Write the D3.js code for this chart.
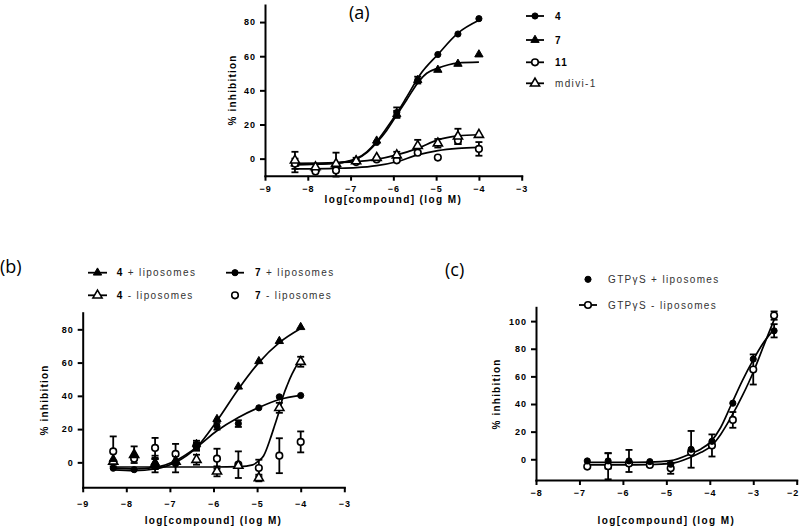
<!DOCTYPE html>
<html><head><meta charset="utf-8">
<script src="https://cdn.jsdelivr.net/npm/d3@7"></script>
<style>
body{margin:0;background:#fff;}
svg{display:block;}
.axis path,.axis line{stroke:#000;stroke-width:2;}
.axis .tick text{font-family:"Liberation Sans",Arial,sans-serif;font-weight:bold;font-size:9px;letter-spacing:1px;fill:#000;}
.atitle{font-family:"Liberation Sans",Arial,sans-serif;font-weight:bold;font-size:10px;fill:#000;}
.leg{font-family:"Liberation Sans",Arial,sans-serif;font-size:10px;letter-spacing:1.35px;fill:#222;}
.ptitle{font-family:"Open Sans","Liberation Sans",sans-serif;font-size:18px;fill:#000;}
</style></head><body>
<svg id="chart" width="800" height="529"></svg>
<script>
// ---------- Panel (a) ----------
const xTicksA=[-9,-8,-7,-6,-5,-4,-3];
const yTicksA=[0,20,40,60,80];
const doseA=[-8.3,-7.82,-7.34,-6.87,-6.39,-5.92,-5.43,-4.96,-4.49,-4.0];
const a4=[-2,-7,-3.5,-1,9.5,27,46,61,73,82];
const a4Err=[6,0,7,0,0,3,0,0,0,0];
const a7=[-3,-6,-4,-1,10.5,26,46,52,55.5,61];
const a7Err=[3,0,0,1.5,0,2,2,0,0,0];
const a11=[-3,-7.5,-7,-2,-0.5,-1,3.5,0.6,10.5,5.7];
const a11Err=[0,0,0,0,0,0,0,0,2,4];
const aMd=[-1,-5,-3,-1.5,0.5,2,7.5,9,13,14];
const aMdErr=[0,0,0,0,0,2,3.5,2.5,4.5,0];
const a4FitX=[-8.3,-7.82,-7.34,-6.87,-6.62,-6.39,-6.16,-5.92,-5.69,-5.38,-4.96,-4.49,-4.0];
const a4FitY=[-3.5,-3.3,-2.7,0,4,10,17.8,26.6,36,49,61,73.5,81];
const a7FitX=[-8.3,-7.82,-7.34,-6.87,-6.62,-6.39,-6.16,-5.92,-5.69,-5.38,-5.22,-4.96,-4.49,-4.0];
const a7FitY=[-3.5,-3.3,-2.7,-0.4,3.5,9.4,16.4,25.6,34.4,46,50,53,56,56.5];
const a11FitX=[-8.3,-7.34,-6.87,-6.39,-5.92,-5.43,-4.96,-4.49,-4.0];
const a11FitY=[-6,-5.7,-5.3,-4.1,-1.8,2.2,4.7,6,6.6];
const aMdFitX=[-8.3,-7.34,-6.87,-6.39,-5.92,-5.43,-4.96,-4.49,-4.0];
const aMdFitY=[-2.7,-2.3,-1.8,-0.4,2.2,6,11,13.3,14];
const legA=["4","7","11","mdivi-1"];

// ---------- Panel (b) ----------
const xTicksB=[-9,-8,-7,-6,-5,-4,-3];
const yTicksB=[0,20,40,60,80];
const doseB=[-8.3,-7.82,-7.34,-6.87,-6.39,-5.92,-5.43,-4.96,-4.49,-4.0];
const b4p=[2,4.6,0,1,11,26,45.5,60.8,72.9,81.3];
const b4pErr=[0,5,4,0,0,0,0,0,0,0];
const b4m=[0.5,4.6,-1,0.5,1.6,-5.4,-2,-9.4,32.8,60.5];
const b4mErr=[0,0,3,0,3,3,0,2,3,3];
const b7p=[-3.5,-4.4,-2,-1,10,21.7,23.3,32.8,39.4,40.2];
const b7pErr=[0,0,4,5,2,2,2,0,0,0];
const b7m=[6.6,2.2,8.7,5.1,10,2.2,-1.4,-3.4,4,12.3];
const b7mErr=[9,0,6,6,3,6,8,5,10.5,6.3];
const b4pFitX=[-8.3,-7.82,-7.34,-6.87,-6.39,-5.92,-5.43,-4.96,-4.49,-4.0];
const b4pFitY=[-4.5,-5,-4,0,9,25,44,60,72,80.5];
const b4mFitX=[-8.3,-7,-6,-5.4,-5.1,-4.96,-4.85,-4.7,-4.6,-4.49,-4.4,-4.3,-4.2,-4.1,-4.0];
const b4mFitY=[-2.8,-2.8,-2.8,-2.6,-1.5,1,4,14,22,31,40,47,53,58,61];
const b7pFitX=[-8.3,-7.82,-7.34,-6.87,-6.39,-5.92,-5.43,-4.96,-4.49,-4.0];
const b7pFitY=[-3.5,-4,-3,1,9,19,27,33,37.8,40.3];
const legB=[["4"," + liposomes"],["4"," - liposomes"],["7"," + liposomes"],["7"," - liposomes"]];

// ---------- Panel (c) ----------
const xTicksC=[-8,-7,-6,-5,-4,-3,-2];
const yTicksC=[0,20,40,60,80,100];
const doseC=[-6.82,-6.34,-5.86,-5.38,-4.9,-4.43,-3.95,-3.47,-3.0,-2.52];
const cP=[-1.2,-1.2,-1.2,-1.7,-3.6,7.2,13,40.6,72.5,93];
const cPErr=[0,5.5,8,0,0,13.3,0,0,0,4.8];
const cM=[-5.3,-5,-3,-4.1,-6.5,5,10,28.5,65,104];
const cMErr=[0,9.5,0,0,4,0,8,5.7,10.9,3];
const cPFitX=[-6.82,-6,-5.4,-4.9,-4.44,-4.2,-3.97,-3.75,-3.5,-3.25,-3.0,-2.75,-2.52];
const cPFitY=[-2.2,-2.2,-2,-1,4,7.5,13,23,40,57,72,85,94];
const cMFitX=[-6.82,-6,-5.4,-4.9,-4.44,-4.2,-3.97,-3.75,-3.5,-3.25,-3.0,-2.75,-2.52];
const cMFitY=[-4,-4,-3.8,-3,1.5,5,9.5,18,31,46,63,83,101];
const legC=["GTP\u03B3S + liposomes","GTP\u03B3S - liposomes"];

const xLabel="log[compound] (log M)";
const yLabel="% inhibition";

const svg=d3.select("#chart");

function marker(g,type,filled,x,y){
  const sym = type==="circle"? d3.symbol().type(d3.symbolCircle).size(filled?30:34)
                             : d3.symbol().type(d3.symbolTriangle).size(filled?30:36);
  g.append("path").attr("d",sym()).attr("transform",`translate(${x},${y})`)
   .attr("fill",filled?"#000":"#fff").attr("stroke","#000").attr("stroke-width",filled?1:1.6);
}

function panel(cfg){
  const x=d3.scaleLinear().domain(cfg.xDom).range(cfg.xRange);
  const y=d3.scaleLinear().domain(cfg.yDom).range(cfg.yRange);
  const g=svg.append("g");
  const xa=g.append("g").attr("class","axis").attr("transform",`translate(0,${cfg.yRange[0]})`)
    .call(d3.axisBottom(x).tickValues(cfg.xTicks).tickFormat(d3.format("d")).tickSize(5).tickSizeOuter(0).tickPadding(cfg.xPad));
  if(cfg.lastDx) xa.selectAll(".tick text").filter((d,i,n)=>i===n.length-1).attr("dx",cfg.lastDx);
  g.append("g").attr("class","axis").attr("transform",`translate(${cfg.xRange[0]},0)`)
    .call(d3.axisLeft(y).tickValues(cfg.yTicks).tickFormat(d3.format("d")).tickSize(5).tickSizeOuter(0).tickPadding(4));
  g.selectAll(".axis .domain").attr("stroke-linecap","square");
  // axis titles
  g.append("text").attr("class","atitle").attr("text-anchor","middle").attr("letter-spacing","1.4px")
    .attr("x",(cfg.xRange[0]+cfg.xRange[1])/2).attr("y",cfg.xTitleY).text(xLabel);
  g.append("text").attr("class","atitle").attr("text-anchor","middle").attr("letter-spacing","1.2px")
    .attr("transform",`translate(${cfg.yTitleX},${cfg.yTitleY}) rotate(-90)`).attr("dy","0.35em").text(yLabel);
  // curves
  const line=d3.line().x(d=>x(d[0])).y(d=>y(d[1])).curve(d3.curveMonotoneX);
  cfg.fits.forEach(f=>{
    g.append("path").attr("d",line(d3.zip(f[0],f[1]))).attr("fill","none").attr("stroke","#000").attr("stroke-width",1.7);
  });
  // error bars + markers
  cfg.series.forEach(s=>{
    s.vals.forEach((v,i)=>{
      const e=s.err[i]; if(e>0){
        const cx=x(cfg.dose[i]), y1=y(v-e), y2=y(v+e);
        g.append("line").attr("x1",cx).attr("x2",cx).attr("y1",y1).attr("y2",y2).attr("stroke","#000").attr("stroke-width",1.8);
        [y1,y2].forEach(yy=>g.append("line").attr("x1",cx-3.5).attr("x2",cx+3.5).attr("y1",yy).attr("y2",yy).attr("stroke","#000").attr("stroke-width",1.8));
      }
    });
  });
  cfg.series.forEach(s=>{
    s.vals.forEach((v,i)=>marker(g,s.type,s.filled,x(cfg.dose[i]),y(v)));
  });
  // title
  svg.append("text").attr("class","ptitle").attr("x",cfg.title[1]).attr("y",cfg.title[2]).text(cfg.title[0]);
}

panel({xDom:[-9,-3],xRange:[265,521.7],yDom:[-10,90],yRange:[175.7,5],xTicks:xTicksA,yTicks:yTicksA,xPad:5,
  xTitleY:203,yTitleX:232,yTitleY:90,dose:doseA,
  fits:[[a4FitX,a4FitY],[a7FitX,a7FitY],[a11FitX,a11FitY],[aMdFitX,aMdFitY]],
  series:[{vals:a4,err:a4Err,type:"circle",filled:true},{vals:a7,err:a7Err,type:"tri",filled:true},
          {vals:a11,err:a11Err,type:"circle",filled:false},{vals:aMd,err:aMdErr,type:"tri",filled:false}],
  title:["(a)",349,19]});
panel({xDom:[-9,-3],xRange:[82.7,344.3],yDom:[-15,90],yRange:[487.3,312.7],xTicks:xTicksB,yTicks:yTicksB,xPad:8,
  xTitleY:524,yTitleX:44,yTitleY:400,dose:doseB,
  fits:[[b4pFitX,b4pFitY],[b4mFitX,b4mFitY],[b7pFitX,b7pFitY]],
  series:[{vals:b7m,err:b7mErr,type:"circle",filled:false},{vals:b4m,err:b4mErr,type:"tri",filled:false},
          {vals:b7p,err:b7pErr,type:"circle",filled:true},{vals:b4p,err:b4pErr,type:"tri",filled:true}],
  title:["(b)",0,273]});
panel({xDom:[-8,-2],xRange:[536,796.7],yDom:[-15,110],yRange:[480,307.3],xTicks:xTicksC,yTicks:yTicksC,xPad:5,lastDx:-4,
  xTitleY:524,yTitleX:496,yTitleY:394,dose:doseC,
  fits:[[cPFitX,cPFitY],[cMFitX,cMFitY]],
  series:[{vals:cM,err:cMErr,type:"circle",filled:false},{vals:cP,err:cPErr,type:"circle",filled:true}],
  title:["(c)",445,276]});

// legends
function legendRow(x0,x1,mx,tx,yy,type,filled,withLine,parts){
  const g=svg.append("g");
  if(withLine) g.append("line").attr("x1",x0).attr("x2",x1).attr("y1",yy).attr("y2",yy).attr("stroke","#000").attr("stroke-width",1.8);
  marker(g,type,filled,mx,yy);
  const t=g.append("text").attr("class","leg").attr("x",tx).attr("y",yy).attr("dy","0.35em");
  parts.forEach((p,i)=>t.append("tspan").attr("font-weight",p.b?"bold":"normal").attr("fill",p.b?"#000":"#333").text(p.s));
}
const aTypes=[["circle",true],["tri",true],["circle",false],["tri",false]];
const aRows=[16,40,62.3,83.3];
legA.forEach((s,i)=>legendRow(526,544,535,555,aRows[i],aTypes[i][0],aTypes[i][1],true,[{s:s,b:i<3}]));
const bPos=[[88,107,97.5,116.7,272.7],[88,107,97.5,116.7,295.3],[226,244,235,255,272.7],[226,244,235,255,295.3]];
const bTypes=[["tri",true,true],["tri",false,true],["circle",true,true],["circle",false,false]];
legB.forEach((s,i)=>{const p=bPos[i];legendRow(p[0],p[1],p[2],p[3],p[4],bTypes[i][0],bTypes[i][1],bTypes[i][2],[{s:s[0],b:true},{s:s[1],b:false}]);});
legendRow(579,597,588,608,279.3,"circle",true,false,[{s:legC[0],b:false}]);
legendRow(579,597,588,608,305,"circle",false,true,[{s:legC[1],b:false}]);
</script>
</body></html>
